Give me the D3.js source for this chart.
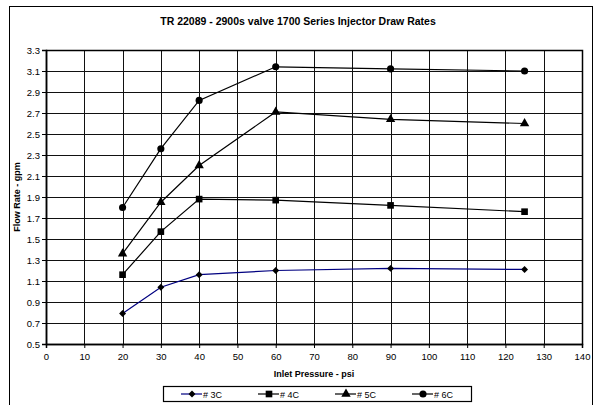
<!DOCTYPE html>
<html>
<head>
<meta charset="UTF-8">
<script src="https://d3js.org/d3.v7.min.js"></script>
<style>
  body { margin: 0; background: #fff; }
  svg { font-family: "Liberation Sans", Arial, sans-serif; }
</style>
</head>
<body>
<div id="chart"></div>
<script>
// data
var pressures = [20, 30, 40, 60, 90, 125];
var series3C = [0.79, 1.04, 1.16, 1.20, 1.22, 1.21];
var series4C = [1.16, 1.57, 1.88, 1.87, 1.82, 1.76];
var series5C = [1.36, 1.85, 2.20, 2.71, 2.64, 2.60];
var series6C = [1.80, 2.36, 2.82, 3.14, 3.12, 3.10];
var seriesNames = ["# 3C", "# 4C", "# 5C", "# 6C"];
var xTicks = d3.range(0, 141, 10);
var yTicks = [0.5, 0.7, 0.9, 1.1, 1.3, 1.5, 1.7, 1.9, 2.1, 2.3, 2.5, 2.7, 2.9, 3.1, 3.3];

// diamond drawn as a square turned 45 degrees
var series = [
  { name: seriesNames[0], values: series3C, color: "#000080", symbol: d3.symbolSquare, size: 24, rot: 45 },
  { name: seriesNames[1], values: series4C, color: "#000", symbol: d3.symbolSquare, size: 44, rot: 0 },
  { name: seriesNames[2], values: series5C, color: "#000", symbol: d3.symbolTriangle, size: 38, rot: 0 },
  { name: seriesNames[3], values: series6C, color: "#000", symbol: d3.symbolCircle, size: 40, rot: 0 }
];

var W = 596, H = 405;
var margin = { top: 50, right: 14, bottom: 61, left: 46 };
var width = W - margin.left - margin.right,
    height = H - margin.top - margin.bottom;

var svg = d3.select("#chart").append("svg")
    .attr("width", W)
    .attr("height", H);

// outer frame
svg.append("rect")
    .attr("x", 9.5).attr("y", 6.5)
    .attr("width", 583).attr("height", 410)
    .attr("fill", "none").attr("stroke", "#000");

svg.append("text")
    .attr("x", 298).attr("y", 25)
    .attr("text-anchor", "middle")
    .style("font-size", "10.5px").style("font-weight", "bold")
    .text("TR 22089 - 2900s valve 1700 Series Injector Draw Rates");

var g = svg.append("g")
    .attr("transform", "translate(" + margin.left + "," + margin.top + ")");

var x = d3.scaleLinear().domain([0, 140]).range([0, width]);
var y = d3.scaleLinear().domain([0.5, 3.3]).range([height, 0]);

// grid
g.append("g")
  .selectAll("line.h")
  .data(yTicks)
  .enter().append("line")
    .attr("x1", 0).attr("x2", width)
    .attr("y1", function(d) { return Math.round(y(d)) + 0.5; })
    .attr("y2", function(d) { return Math.round(y(d)) + 0.5; })
    .attr("stroke", "#111").attr("stroke-width", 1);

g.append("g")
  .selectAll("line.v")
  .data(xTicks)
  .enter().append("line")
    .attr("y1", 0).attr("y2", height)
    .attr("x1", function(d) { return Math.round(x(d)) + 0.5; })
    .attr("x2", function(d) { return Math.round(x(d)) + 0.5; })
    .attr("stroke", "#111").attr("stroke-width", 1);

g.append("rect")
    .attr("x", 0.5).attr("y", 0.5)
    .attr("width", width).attr("height", height)
    .attr("fill", "none").attr("stroke", "#000").attr("stroke-width", 1.5);

// axes
var xAxis = g.append("g")
    .attr("transform", "translate(0," + height + ")")
    .call(d3.axisBottom(x).tickValues(xTicks).tickSize(4).tickPadding(5).tickFormat(d3.format("d")));
var yAxis = g.append("g")
    .call(d3.axisLeft(y).tickValues(yTicks).tickSize(4).tickPadding(2).tickFormat(d3.format(".1f")));
[xAxis, yAxis].forEach(function(a) {
  a.select(".domain").attr("stroke", "#000").attr("stroke-width", 1.5);
  a.selectAll("text").style("font-size", "9.5px").attr("fill", "#000")
    .style("font-family", "'Liberation Sans', Arial, sans-serif");
});

svg.append("text")
    .attr("x", margin.left + width / 2).attr("y", 377)
    .attr("text-anchor", "middle")
    .style("font-size", "9px").style("font-weight", "bold")
    .text("Inlet Pressure - psi");

svg.append("text")
    .attr("transform", "translate(20," + (margin.top + height / 2) + ") rotate(-90)")
    .attr("text-anchor", "middle")
    .style("font-size", "9px").style("font-weight", "bold")
    .text("Flow Rate - gpm");

// lines and markers
var line = d3.line()
    .x(function(d, i) { return x(pressures[i]); })
    .y(function(d) { return y(d); });

series.forEach(function(s) {
  g.append("path")
    .datum(s.values)
    .attr("fill", "none")
    .attr("stroke", s.color)
    .attr("stroke-width", 1.2)
    .attr("d", line);

  g.selectAll(null)
    .data(s.values)
    .enter().append("path")
      .attr("d", d3.symbol().type(s.symbol).size(s.size))
      .attr("transform", function(d, i) {
        return "translate(" + x(pressures[i]) + "," + y(d) + ") rotate(" + s.rot + ")";
      })
      .attr("fill", "#000");
});

// legend
var legend = svg.append("g");
legend.append("rect")
    .attr("x", 163.5).attr("y", 386.5)
    .attr("width", 308).attr("height", 15)
    .attr("fill", "#fff").attr("stroke", "#000").attr("stroke-width", 1.2);

var lx = d3.scalePoint().domain(seriesNames).range([192, 423]);
series.forEach(function(s) {
  var cx = lx(s.name);
  legend.append("line")
    .attr("x1", cx - 11).attr("x2", cx + 10)
    .attr("y1", 394).attr("y2", 394)
    .attr("stroke", s.color).attr("stroke-width", 1.2);
  legend.append("path")
    .attr("d", d3.symbol().type(s.symbol).size(s.size))
    .attr("transform", "translate(" + cx + ",394) rotate(" + s.rot + ")")
    .attr("fill", "#000");
  legend.append("text")
    .attr("x", cx + 11).attr("y", 397.5)
    .style("font-size", "9px")
    .text(s.name);
});
</script>
</body>
</html>
